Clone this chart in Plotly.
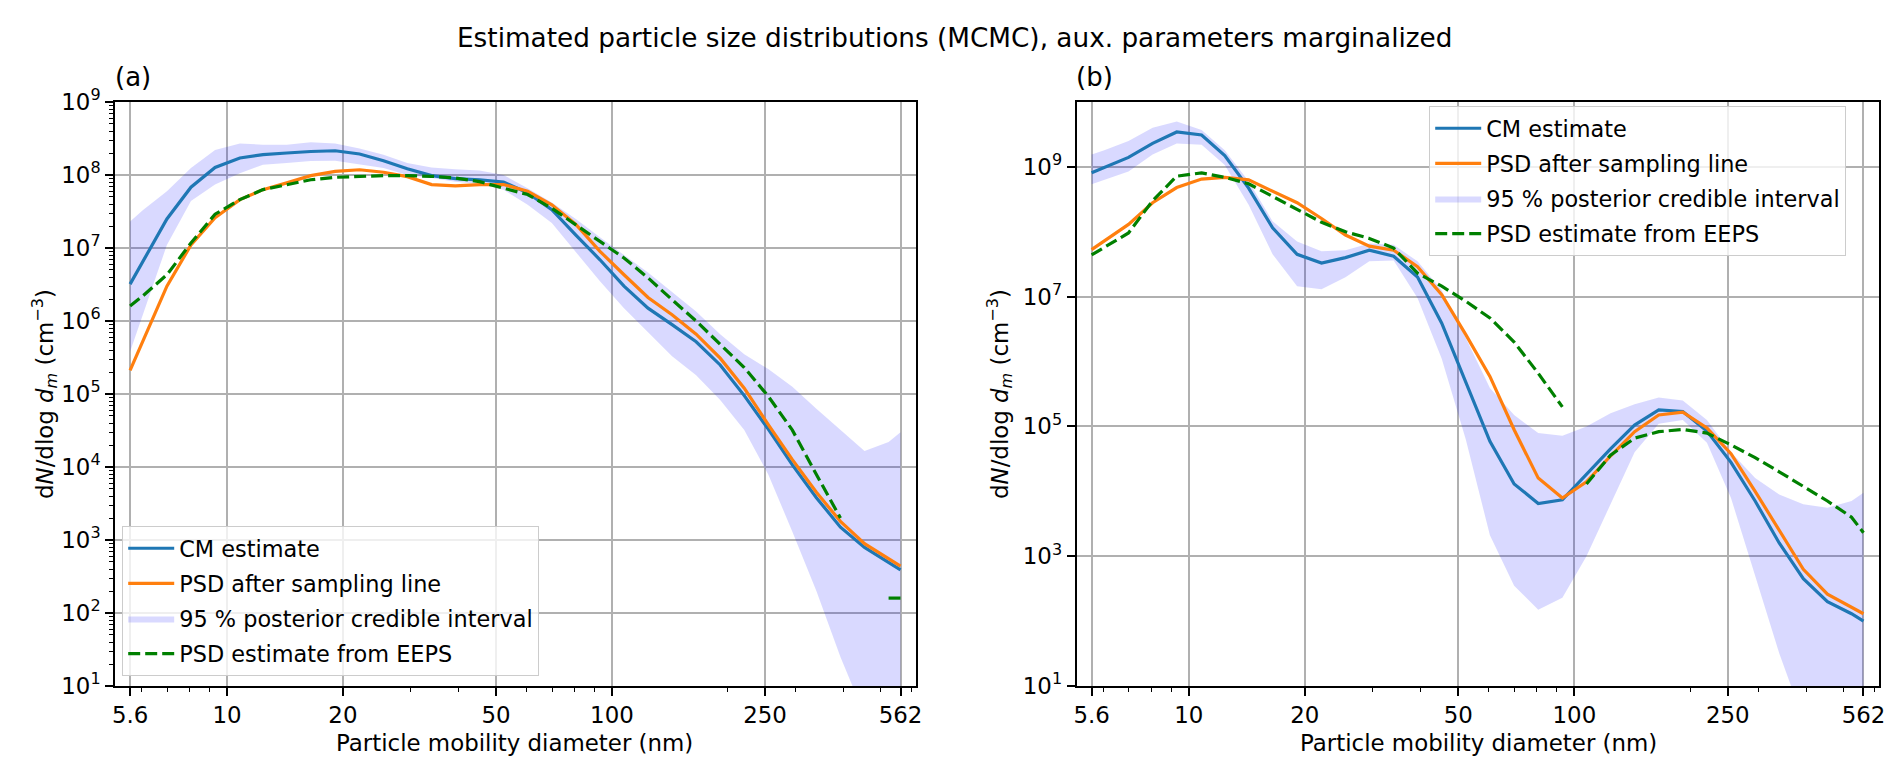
import plotly.graph_objs as go

# Diameter grid (nm): EEPS channel midpoints plus the two end points
diameter = [5.6, 6.04, 6.98, 8.06, 9.31, 10.8, 12.4, 14.3, 16.5, 19.1, 22.1, 25.5,
            29.4, 34.0, 39.2, 45.3, 52.3, 60.4, 69.8, 80.6, 93.1, 107.5, 124.1,
            143.3, 165.5, 191.1, 220.7, 254.8, 294.3, 339.8, 392.4, 453.2, 523.3, 562]

# ---- panel (a) ----
cm_a = [3.2e6, 6.5e6, 2.5e7, 6.8e7, 1.27e8, 1.71e8, 1.9e8, 2.0e8, 2.1e8, 2.15e8, 1.94e8,
        1.57e8, 1.22e8, 9.8e7, 8.9e7, 8.6e7, 8.0e7, 5.7e7, 3.35e7, 1.5e7, 6.9e6, 3.0e6,
        1.5e6, 8.9e5, 5.2e5, 2.5e5, 9.5e4, 3.3e4, 1.07e4, 3.8e3, 1.5e3, 7.9e2, 5.0e2, 3.9e2]
psd_a = [2.1e5, 5.2e5, 3.0e6, 1.1e7, 2.6e7, 4.6e7, 6.3e7, 7.8e7, 9.8e7, 1.12e8, 1.18e8,
         1.09e8, 9.5e7, 7.4e7, 7.1e7, 7.4e7, 7.4e7, 6.0e7, 3.9e7, 2.1e7, 9.0e6, 4.3e6,
         2.1e6, 1.22e6, 6.6e5, 3.1e5, 1.2e5, 3.8e4, 1.26e4, 4.5e3, 1.8e3, 8.9e2, 5.6e2, 4.4e2]
eeps_a = [1.6e6, 2.2e6, 4.3e6, 1.17e7, 2.9e7, 4.6e7, 6.3e7, 7.4e7, 8.6e7, 9.3e7, 9.6e7,
          9.8e7, 9.8e7, 9.6e7, 9.1e7, 8.1e7, 6.6e7, 5.4e7, 3.5e7, 2.1e7, 1.23e7, 7.3e6,
          3.9e6, 1.96e6, 1.0e6, 4.8e5, 2.3e5, 9.3e4, 3.2e4, 7.9e3, 2.0e3, None, 1.6e2, 1.6e2]
ci_low_a = [3.8e5, 1.2e6, 1.1e7, 4.4e7, 7.4e7, 1.06e8, 1.38e8, 1.46e8, 1.55e8, 1.57e8, 1.4e8,
            1.25e8, 1.0e8, 9.1e7, 8.1e7, 7.5e7, 6.3e7, 3.9e7, 2.2e7, 8.9e6, 3.5e6, 1.5e6,
            7.1e5, 3.3e5, 1.8e5, 8.3e4, 3.2e4, 7.9e3, 1.3e3, 2.0e2, 25, 4, 1.6, 1]
ci_high_a = [2.3e7, 3.3e7, 6.0e7, 1.25e8, 2.2e8, 2.7e8, 2.6e8, 2.6e8, 2.8e8, 2.7e8, 2.3e8,
             1.9e8, 1.46e8, 1.27e8, 1.2e8, 1.15e8, 1.0e8, 6.6e7, 4.2e7, 2.5e7, 1.4e7, 8.1e6,
             4.6e6, 2.5e6, 1.35e6, 6.6e5, 3.5e5, 2.2e5, 1.26e5, 6.3e4, 3.2e4, 1.65e4, 2.2e4, 3.0e4]

# ---- panel (b) ----
cm_b = [8.1e8, 9.8e8, 1.4e9, 2.3e9, 3.45e9, 3.1e9, 1.5e9, 4.7e8, 1.15e8, 4.5e7, 3.3e7,
        4.0e7, 5.2e7, 4.2e7, 2.0e7, 3.9e6, 4.7e5, 5.9e4, 1.3e4, 6.5e3, 7.4e3, 1.8e4,
        4.5e4, 1.05e5, 1.8e5, 1.7e5, 8.5e4, 2.8e4, 7.1e3, 1.6e3, 4.5e2, 2.0e2, 1.3e2, 1.0e2]
psd_b = [5.3e7, 7.2e7, 1.3e8, 2.8e8, 4.8e8, 6.5e8, 6.9e8, 6.3e8, 4.2e8, 2.8e8, 1.6e8,
         8.9e7, 6.0e7, 5.2e7, 2.9e7, 1.07e7, 2.6e6, 5.9e5, 8.9e4, 1.6e4, 7.9e3, 1.4e4,
         3.5e4, 8.3e4, 1.5e5, 1.66e5, 9.5e4, 3.8e4, 1.0e4, 2.5e3, 6.3e2, 2.6e2, 1.66e2, 1.3e2]
eeps_b = [4.4e7, 5.8e7, 9.6e7, 3.0e8, 7.2e8, 8.1e8, 6.9e8, 5.5e8, 3.5e8, 2.2e8, 1.4e8,
          1.0e8, 7.9e7, 5.6e7, 2.3e7, 1.45e7, 8.5e6, 4.7e6, 2.0e6, 6.6e5, 2.0e5, 1.3e4,
          3.6e4, 6.6e4, 8.3e4, 9.0e4, 7.9e4, 5.2e4, 3.3e4, 2.0e4, 1.2e4, 7.1e3, 4.0e3, 2.3e3]
eeps_b_break = 93.1  # EEPS curve not drawn between 93.1 nm and the next channel
ci_low_b = [5.4e8, 6.3e8, 8.5e8, 1.55e9, 2.3e9, 2.2e9, 1.07e9, 2.6e8, 4.5e7, 1.45e7, 1.3e7,
            2.0e7, 3.5e7, 3.6e7, 9.5e6, 1.1e6, 6.3e4, 2.1e3, 3.5e2, 1.5e2, 2.3e2, 1.0e3,
            6.3e3, 4.0e4, 1.1e5, 1.26e5, 5.6e4, 7.9e3, 5.0e2, 32, 3, 1, 1, 1]
ci_high_b = [1.55e9, 1.8e9, 2.5e9, 4.0e9, 5.0e9, 3.7e9, 1.8e9, 6.0e8, 1.45e8, 7.1e7, 5.0e7,
             5.2e7, 6.6e7, 6.3e7, 3.5e7, 1.26e7, 2.3e6, 3.9e5, 1.5e5, 7.9e4, 7.2e4, 1.0e5,
             1.6e5, 2.2e5, 2.8e5, 2.5e5, 1.26e5, 4.0e4, 1.6e4, 8.9e3, 6.3e3, 5.6e3, 7.1e3, 9.5e3]

x_tickvals = [5.6, 10, 20, 50, 100, 250, 562]
x_ticktext = ['5.6', '10', '20', '50', '100', '250', '562']
x_minor = [6, 7, 8, 9, 30, 40, 60, 70, 80, 90, 200, 300, 400, 500, 600]

W, H = 1892, 766
FONT = 'DejaVu Sans'
FS = 22.9  # 10 pt at the figure's dpi
LEG_FS = 22.4
BLUE, ORANGE, GREEN = '#1f77b4', '#ff7f0e', '#008000'
BAND = 'rgba(0,0,255,0.15)'

panels = [
    dict(cm=cm_a, psd=psd_a, eeps=eeps_a, brk=None, lo=ci_low_a, hi=ci_high_a,
         xa='x', ya='y', lg='legend'),
    dict(cm=cm_b, psd=psd_b, eeps=eeps_b, brk=eeps_b_break, lo=ci_low_b, hi=ci_high_b,
         xa='x2', ya='y2', lg='legend2'),
]

traces = []
for p in panels:
    # credible interval band (lower edge first, then fill up to upper edge)
    traces.append(go.Scatter(x=diameter, y=p['lo'], mode='lines', line=dict(width=0),
                             xaxis=p['xa'], yaxis=p['ya'], showlegend=False, hoverinfo='skip'))
    traces.append(go.Scatter(x=diameter, y=p['hi'], mode='lines', line=dict(width=0),
                             fill='tonexty', fillcolor=BAND, name='95 % posterior credible interval',
                             xaxis=p['xa'], yaxis=p['ya'], legend=p['lg'], legendrank=3,
                             legendgroup='band'))
    traces.append(go.Scatter(x=diameter, y=p['cm'], mode='lines', name='CM estimate',
                             line=dict(color=BLUE, width=3.2), xaxis=p['xa'], yaxis=p['ya'],
                             legend=p['lg'], legendrank=1, legendgroup='cm'))
    traces.append(go.Scatter(x=diameter, y=p['psd'], mode='lines', name='PSD after sampling line',
                             line=dict(color=ORANGE, width=3.2), xaxis=p['xa'], yaxis=p['ya'],
                             legend=p['lg'], legendrank=2, legendgroup='psd'))

    # EEPS curve, split where the measurement has a hole
    if p['brk'] is None:
        segments = [(diameter, p['eeps'])]
    else:
        k = diameter.index(p['brk']) + 1
        segments = [(diameter[:k], p['eeps'][:k]), (diameter[k:], p['eeps'][k:])]
    for i, (xs, ys) in enumerate(segments):
        traces.append(go.Scatter(x=xs, y=ys, mode='lines', name='PSD estimate from EEPS',
                                 line=dict(color=GREEN, width=3.2, dash='12px,5px'),
                                 xaxis=p['xa'], yaxis=p['ya'], legend=p['lg'], legendrank=4,
                                 legendgroup='eeps', showlegend=(i == 0)))


def x_axis(left, right):
    return dict(type='log', domain=[left / W, right / W], range=[0.709, 2.790],
                tickvals=x_tickvals, ticktext=x_ticktext, ticks='outside', ticklen=8,
                tickwidth=1.6, tickcolor='black', showgrid=True, gridcolor='#b0b0b0',
                gridwidth=1.7, showline=True, linecolor='black', linewidth=1.6, mirror=True,
                tickfont=dict(size=FS, color='black'), zeroline=False, automargin=False,
                minor=dict(tickvals=x_minor, ticks='outside', ticklen=4.5, tickwidth=1.2,
                           tickcolor='black', showgrid=False))


def y_axis(anchor, exps, top, minor=True):
    ax = dict(type='log', domain=[1 - 678 / H, 1 - 94 / H], range=[1, top], anchor=anchor,
              tickvals=[10 ** e for e in exps],
              ticktext=['10<sup>%d</sup>' % e for e in exps],
              ticks='outside', ticklen=8, tickwidth=1.6, tickcolor='black',
              showgrid=True, gridcolor='#b0b0b0', gridwidth=1.7, showline=True,
              linecolor='black', linewidth=1.6, mirror=True, zeroline=False,
              tickfont=dict(size=FS, color='black'), automargin=False)
    if minor:
        ax['minor'] = dict(tickvals=[m * 10 ** e for e in range(1, 9) for m in range(2, 10)],
                           ticks='outside', ticklen=4.5, tickwidth=1.2, tickcolor='black',
                           showgrid=False)
    return ax


legend_style = dict(font=dict(family=FONT, size=LEG_FS, color='black'),
                    bgcolor='rgba(255,255,255,0.8)', bordercolor='#cccccc', borderwidth=1.2,
                    itemwidth=46, traceorder='grouped', tracegroupgap=3)

ylabel = 'd<i>N</i>/dlog <i>d<sub>m</sub></i> (cm<sup>\u22123</sup>)'
annotations = [
    dict(text='Estimated particle size distributions (MCMC), aux. parameters marginalized',
         x=0.5, y=1 - 30 / H, xanchor='center', yanchor='middle', font=dict(size=26.3)),
    dict(text='(a)', x=105 / W, y=1 - 86 / H, xanchor='left', yanchor='bottom', font=dict(size=26)),
    dict(text='(b)', x=1066 / W, y=1 - 86 / H, xanchor='left', yanchor='bottom', font=dict(size=26)),
    dict(text='Particle mobility diameter (nm)', x=507 / W, y=1 - 735 / H,
         xanchor='center', yanchor='middle', font=dict(size=FS)),
    dict(text='Particle mobility diameter (nm)', x=1470 / W, y=1 - 735 / H,
         xanchor='center', yanchor='middle', font=dict(size=FS)),
    dict(text=ylabel, x=36 / W, y=1 - 386 / H, textangle=-90,
         xanchor='center', yanchor='middle', font=dict(size=FS)),
    dict(text=ylabel, x=991 / W, y=1 - 386 / H, textangle=-90,
         xanchor='center', yanchor='middle', font=dict(size=FS)),
]
for a in annotations:
    a.update(xref='paper', yref='paper', showarrow=False)

layout = go.Layout(
    width=W, height=H,
    margin=dict(l=0, r=0, t=0, b=0),
    paper_bgcolor='white', plot_bgcolor='white',
    font=dict(family=FONT, color='black'),
    xaxis=x_axis(107, 908),
    yaxis=y_axis('x', list(range(1, 10)), 9),
    xaxis2=x_axis(1068.5, 1871),
    yaxis2=y_axis('x2', [1, 3, 5, 7, 9], 10.0, minor=False),
    legend=dict(x=114 / W, y=1 - 668 / H, xanchor='left', yanchor='bottom', **legend_style),
    legend2=dict(x=1421 / W, y=1 - 98 / H, xanchor='left', yanchor='top', **legend_style),
    annotations=annotations,
)
layout.xaxis.anchor = 'y'
layout.xaxis2.anchor = 'y2'

fig = go.Figure(data=traces, layout=layout)
fig.write_html("out.html")
